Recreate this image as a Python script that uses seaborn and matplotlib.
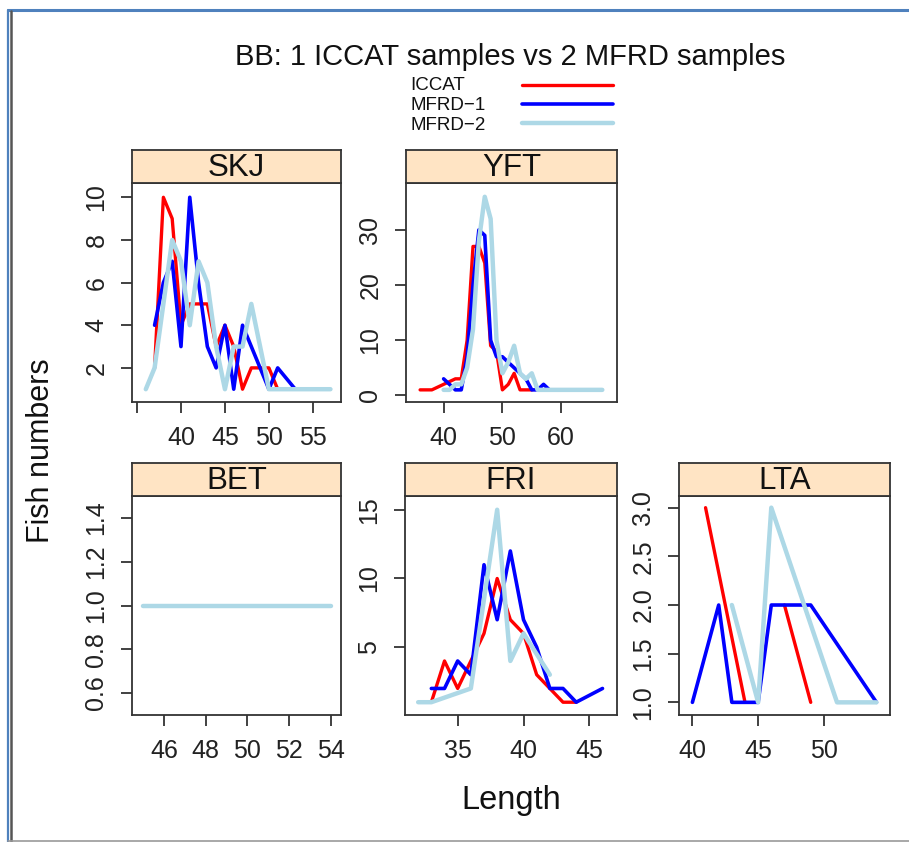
import matplotlib
matplotlib.use("Agg")
import matplotlib.pyplot as plt
import numpy as np
import pandas as pd
import seaborn as sns
from matplotlib.lines import Line2D

# values (length, fish numbers) per species and source
skj_iccat_len = [37, 38, 39, 40, 41, 42, 43, 44, 45, 46, 47, 48, 49, 50, 51]
skj_iccat_n = [2, 10, 9, 4, 5, 5, 5, 3, 4, 3, 1, 2, 2, 2, 1]
skj_mfrd1_len = [37, 38, 39, 40, 41, 42, 43, 44, 45, 46, 47, 48, 49, 50, 51, 53]
skj_mfrd1_n = [4, 6, 7, 3, 10, 6, 3, 2, 4, 1, 4, 3, 2, 1, 2, 1]
skj_mfrd2_len = [36, 37, 38, 39, 40, 41, 42, 43, 44, 45, 46, 47, 48, 49, 50, 57]
skj_mfrd2_n = [1, 2, 5, 8, 7, 4, 7, 6, 3, 1, 3, 3, 5, 3, 1, 1]

yft_iccat_len = [36, 38, 40, 42, 43, 44, 45, 46, 47, 48, 49, 50, 51, 52, 53, 55]
yft_iccat_n = [1, 1, 2, 3, 3, 10, 27, 27, 24, 9, 8, 1, 2, 4, 1, 1]
yft_mfrd1_len = [40, 41, 42, 43, 44, 45, 46, 47, 48, 49, 50, 51, 52, 53, 54, 55, 56, 57, 58]
yft_mfrd1_n = [3, 2, 1, 1, 7, 20, 30, 29, 10, 7, 7, 6, 5, 4, 3, 1, 1, 2, 1]
yft_mfrd2_len = [40, 41, 42, 43, 44, 45, 46, 47, 48, 49, 50, 51, 52, 53, 54, 55, 56, 67]
yft_mfrd2_n = [1, 1, 2, 2, 5, 12, 28, 36, 32, 10, 4, 6, 9, 4, 3, 4, 1, 1]

bet_mfrd2_len = [45, 54]
bet_mfrd2_n = [1, 1]

fri_iccat_len = [33, 34, 35, 36, 37, 38, 39, 40, 41, 42, 43, 44]
fri_iccat_n = [1, 4, 2, 4, 6, 10, 7, 6, 3, 2, 1, 1]
fri_mfrd1_len = [33, 34, 35, 36, 37, 38, 39, 40, 41, 42, 43, 44, 46]
fri_mfrd1_n = [2, 2, 4, 3, 11, 7, 12, 7, 5, 2, 2, 1, 2]
fri_mfrd2_len = [32, 33, 36, 38, 39, 40, 42]
fri_mfrd2_n = [1, 1, 2, 15, 4, 6, 3]

lta_iccat_len = [41, 44, 45, 47, 49]
lta_iccat_n = [3, 1, np.nan, 2, 1]
lta_mfrd1_len = [40, 42, 43, 45, 46, 49, 54]
lta_mfrd1_n = [1, 2, 1, 1, 2, 2, 1]
lta_mfrd2_len = [43, 45, 46, 51, 54]
lta_mfrd2_n = [2, 1, 3, 1, 1]

sources = ["ICCAT", "MFRD\u22121", "MFRD\u22122"]
colors = {"ICCAT": "#FF0000", "MFRD\u22121": "#0000FF", "MFRD\u22122": "#ADD8E6"}
widths = {"ICCAT": 2.4, "MFRD\u22121": 2.6, "MFRD\u22122": 3.2}

series = [
    ("SKJ", "ICCAT", skj_iccat_len, skj_iccat_n),
    ("SKJ", "MFRD\u22121", skj_mfrd1_len, skj_mfrd1_n),
    ("SKJ", "MFRD\u22122", skj_mfrd2_len, skj_mfrd2_n),
    ("YFT", "ICCAT", yft_iccat_len, yft_iccat_n),
    ("YFT", "MFRD\u22121", yft_mfrd1_len, yft_mfrd1_n),
    ("YFT", "MFRD\u22122", yft_mfrd2_len, yft_mfrd2_n),
    ("BET", "MFRD\u22122", bet_mfrd2_len, bet_mfrd2_n),
    ("FRI", "ICCAT", fri_iccat_len, fri_iccat_n),
    ("FRI", "MFRD\u22121", fri_mfrd1_len, fri_mfrd1_n),
    ("FRI", "MFRD\u22122", fri_mfrd2_len, fri_mfrd2_n),
    ("LTA", "ICCAT", lta_iccat_len, lta_iccat_n),
    ("LTA", "MFRD\u22121", lta_mfrd1_len, lta_mfrd1_n),
    ("LTA", "MFRD\u22122", lta_mfrd2_len, lta_mfrd2_n),
]

# long table; a NaN breaks a line into separate segments
rows = []
for sp, src, xs, ys in series:
    seg = 0
    for x, y in zip(xs, ys):
        if np.isnan(y):
            seg += 1
            continue
        rows.append({"species": sp, "source": src, "length": x, "n": y, "seg": f"{src}-{seg}"})
df = pd.DataFrame(rows)

sns.set_style("ticks")
plt.rcParams["font.family"] = ["Liberation Sans", "DejaVu Sans"]

W, H = 909, 842
fig = plt.figure(figsize=(W / 100, H / 100), dpi=100)

# panel boxes in pixels: left, top, right, bottom ; axis limits and ticks
panels = {
    "SKJ": dict(box=(132, 183, 341, 402), xlim=(34.43, 58.2), ylim=(0.4, 10.67),
                xt=[35, 40, 45, 50, 55], xl=["", "40", "45", "50", "55"],
                yt=[2, 4, 6, 8, 10], yl=None),
    "YFT": dict(box=(406, 183, 617, 402), xlim=(33.6, 69.5), ylim=(-1.2, 38.5),
                xt=[40, 50, 60], xl=None, yt=[0, 10, 20, 30], yl=None),
    "BET": dict(box=(132, 496, 341, 715), xlim=(44.45, 54.5), ylim=(0.5, 1.5),
                xt=[46, 48, 50, 52, 54], xl=None,
                yt=[0.6, 0.8, 1.0, 1.2, 1.4], yl=["0.6", "0.8", "1.0", "1.2", "1.4"]),
    "FRI": dict(box=(405, 496, 617, 715), xlim=(31, 47.1), ylim=(0.07, 16.0),
                xt=[35, 40, 45], xl=None, yt=[5, 10, 15], yl=None),
    "LTA": dict(box=(679, 496, 890, 715), xlim=(38.98, 55.03), ylim=(0.87, 3.12),
                xt=[40, 45, 50], xl=None,
                yt=[1.0, 1.5, 2.0, 2.5, 3.0], yl=["1.0", "1.5", "2.0", "2.5", "3.0"]),
}

edge = "#333333"
for sp, p in panels.items():
    l, t, r, b = p["box"]
    ax = fig.add_axes([l / W, 1 - b / H, (r - l) / W, (b - t) / H])
    sub = df[df["species"] == sp]
    hue_order = [s for s in sources if s in set(sub["source"])]
    sns.lineplot(data=sub, x="length", y="n", hue="source", size="source",
                 units="seg", estimator=None, sort=False,
                 hue_order=hue_order, palette=colors, sizes=widths,
                 legend=False, ax=ax)
    ax.set_xlim(p["xlim"])
    ax.set_ylim(p["ylim"])
    ax.set_xticks(p["xt"])
    if p["xl"] is not None:
        ax.set_xticklabels(p["xl"])
    ax.set_yticks(p["yt"])
    if p["yl"] is not None:
        ax.set_yticklabels(p["yl"])
    ax.set_xlabel("")
    ax.set_ylabel("")
    ax.tick_params(length=8, width=1.3, pad=9, labelsize=18, color=edge, labelcolor="#222222")
    ax.tick_params(axis="y", labelrotation=90)
    for lab in ax.get_yticklabels():
        lab.set_va("center")
    for s in ax.spines.values():
        s.set_color(edge)
        s.set_linewidth(1.3)
    # strip on top of each panel
    strip = ax.inset_axes([0, 1, 1, 33 / (b - t)])
    strip.set_facecolor("#FFE4C4")
    strip.set_xticks([])
    strip.set_yticks([])
    for s in strip.spines.values():
        s.set_color(edge)
        s.set_linewidth(1.3)
    strip.text(0.5, 0.45, sp, ha="center", va="center", fontsize=22.5, color="#111111",
               transform=strip.transAxes)

# title, legend and axis labels
fig.text(510 / W, 1 - 65 / H, "BB: 1 ICCAT samples vs 2 MFRD samples",
         ha="center", va="baseline", fontsize=21, color="#111111")
for i, src in enumerate(sources):
    yb = 90.5 + 20 * i
    yl = 85 + 19 * i
    fig.text(410 / W, 1 - yb / H, src, ha="left", va="baseline", fontsize=13.5, color="#111111")
    fig.add_artist(Line2D([522 / W, 613 / W], [1 - yl / H, 1 - yl / H],
                          color=colors[src], lw=widths[src], transform=fig.transFigure))
fig.text(41 / W, 1 - 451 / H, "Fish numbers", rotation=90, ha="center", va="center",
         fontsize=22, color="#111111")
fig.text(511 / W, 1 - 800 / H, "Length", ha="center", va="center", fontsize=23.5, color="#111111")

# screenshot frame
fig.add_artist(Line2D([8 / W, 1], [1 - 10 / H, 1 - 10 / H], color="#4F81BD", lw=2.2,
                      transform=fig.transFigure))
fig.add_artist(Line2D([8 / W, 8 / W], [0, 1 - 10 / H], color="#4F81BD", lw=1.6,
                      transform=fig.transFigure))
fig.add_artist(Line2D([11 / W, 11 / W], [0, 1 - 11 / H], color="#555555", lw=1.8,
                      transform=fig.transFigure))
fig.add_artist(Line2D([8 / W, 1], [1 - 840.5 / H, 1 - 840.5 / H], color="#999999", lw=1.2,
                      transform=fig.transFigure))

fig.savefig("out.png", dpi=100)
